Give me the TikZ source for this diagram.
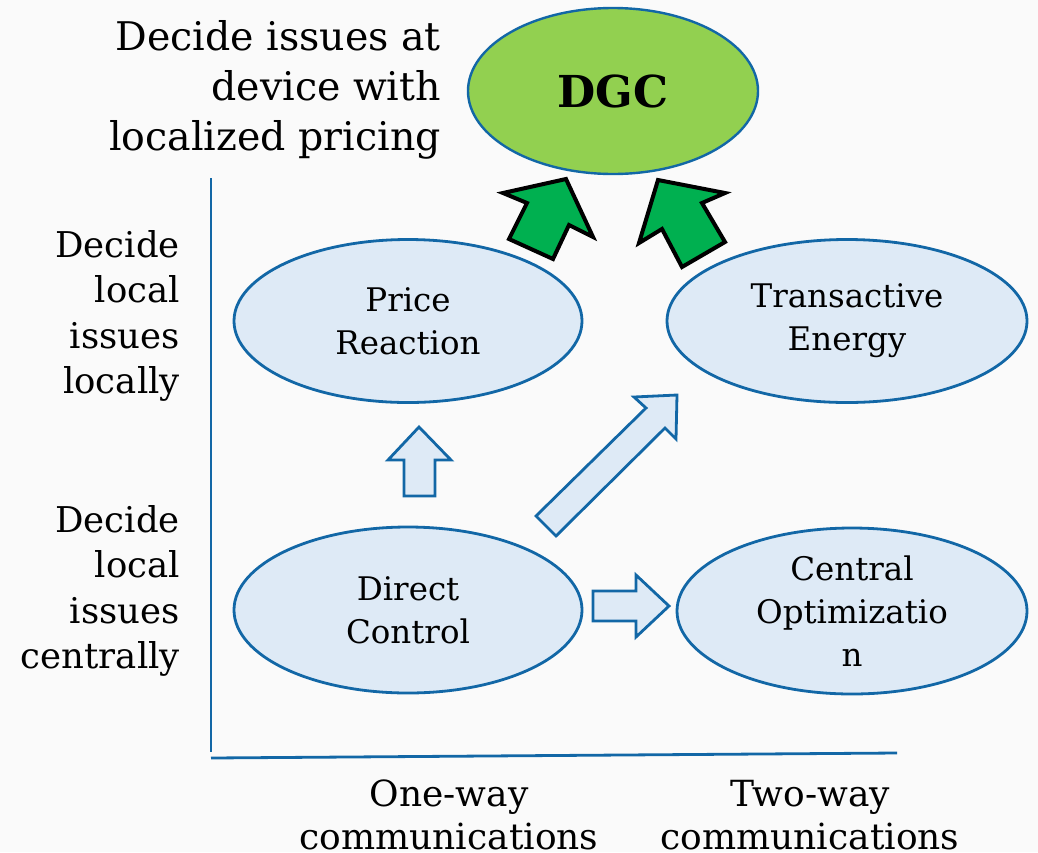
\documentclass[tikz,border=0pt]{standalone}
\usepackage{fontspec}
\setmainfont{DejaVu Serif}
\usetikzlibrary{shapes.geometric}
\definecolor{bg}{HTML}{FAFAFA}
\definecolor{ebl}{HTML}{DEEAF6}
\definecolor{edg}{HTML}{1267A6}
\definecolor{dgcg}{HTML}{92D050}
\definecolor{arrg}{HTML}{00B050}
\tikzset{
  oval/.style={ellipse, draw=edg, line width=2.8pt, fill=ebl, inner sep=0pt, align=center,
    font=\fontsize{32.5}{43}\selectfont},
  sidelab/.style={anchor=east, align=right, inner sep=0pt, font=\fontsize{35.5}{45.5}\selectfont},
  botlab/.style={align=center, inner sep=0pt, font=\fontsize{36}{43}\selectfont},
  blockarrow/.style={draw=edg, line width=2.8pt, fill=ebl, line join=miter},
  greenarrow/.style={draw=black, line width=4pt, fill=arrg, line join=miter},
  axis/.style={draw=edg, line width=2.8pt}
}
\begin{document}
\begin{tikzpicture}[x=1pt,y=-1pt]
\path[fill=bg] (0,0) rectangle (1038,852);
\useasboundingbox (0,0) rectangle (1038,852);
% axes
\coordinate (ytop) at (211,178);
\coordinate (origin) at (211,758);
\coordinate (xend) at (897,753);
\draw[axis] (ytop) -- (211,752);
\draw[axis] (origin) -- (xend);
% ellipses
\node[oval, minimum width=290pt, minimum height=166pt, fill=dgcg, line width=2.4pt,
  font=\fontsize{44}{50}\selectfont\bfseries] (dgc) at (613,91) {DGC};
\node[oval, minimum width=348pt, minimum height=163pt] (pr) at (408,321) {Price\\Reaction};
\node[oval, minimum width=360pt, minimum height=163pt] (te) at (847,321) {Transactive\\Energy};
\node[oval, minimum width=348pt, minimum height=166pt] (dc) at (408,610) {Direct\\Control};
\node[oval, minimum width=350pt, minimum height=166pt] (co) at (852,611) {Central\\Optimizatio\\n};
% texts
\node[anchor=east, align=right, inner sep=0pt, font=\fontsize{39.5}{50}\selectfont] (toplab) at (441,90)
  {Decide issues at\\device with\\localized pricing};
\node[sidelab] (loc) at (180,316) {Decide\\local\\issues\\locally};
\node[sidelab] (cen) at (180,591) {Decide\\local\\issues\\centrally};
\node[botlab] (one) at (449,815) {One-way\\communications};
\node[botlab] (two) at (810,815) {Two-way\\communications};
% blue block arrows
\draw[blockarrow] (419,427) -- (451,460) -- (435,460) -- (435,496) -- (404,496) -- (404,460) -- (388,460) -- cycle;
\draw[blockarrow] (536,516) -- (646,408) -- (634,397) -- (677,395) -- (676,439) -- (665,428) -- (556,536) -- cycle;
\draw[blockarrow] (593,591) -- (636,591) -- (636,575) -- (669,606) -- (636,637) -- (636,621) -- (593,621) -- cycle;
% green arrows
\draw[greenarrow] (566,179) -- (593,237) -- (569,225) -- (553,259) -- (509,239) -- (527,203) -- (503,193) -- cycle;
\draw[greenarrow] (658,180) -- (725,193) -- (702,203) -- (725,242) -- (682,267) -- (662,229) -- (639,243) -- cycle;
\end{tikzpicture}
\end{document}
